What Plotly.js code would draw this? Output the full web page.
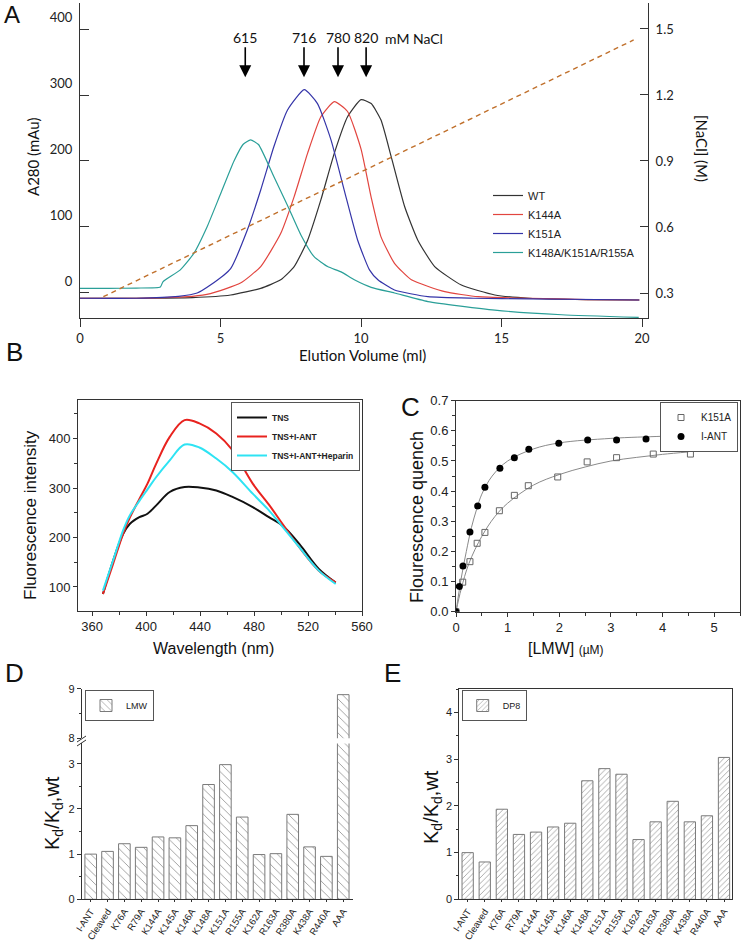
<!DOCTYPE html>
<html>
<head>
<meta charset="utf-8">
<script src="https://cdn.plot.ly/plotly-3.0.1.min.js"></script>
<style>body{margin:0;background:#fff}#plot{width:745px;height:941px}</style>
</head>
<body>
<div id="plot"></div>
<script>
////////// PANEL A : elution profiles ///////////////
const wtVol   = [0, 2, 4, 5.36, 6.43, 7.14, 7.62, 8.1, 8.57, 9.05, 9.52, 10.0, 10.36, 10.71, 11.07, 11.55, 12.02, 12.62, 13.57, 14.76, 16, 18, 19.9];
const wtAbs   = [-8, -8, -7, -3, 7, 20, 40, 80, 141, 212, 267, 293, 287, 262, 207, 131, 80, 40, 12, -3, -8, -10, -10.6];
const k144Vol = [0, 2, 4, 4.64, 5.71, 6.43, 7.14, 7.62, 8.1, 8.57, 9.05, 9.52, 10.0, 10.36, 10.71, 11.19, 11.79, 12.98, 14.17, 16, 18, 19.9];
const k144Abs = [-8, -8, -5, -1, 15, 40, 90, 146, 212, 267, 290, 275, 218, 145, 85, 45, 20, 2, -5.6, -8, -10, -10.6];
const k151Vol = [0, 2, 3.5, 4.17, 4.64, 5.36, 5.95, 6.43, 6.9, 7.38, 7.98, 8.45, 8.93, 9.4, 9.88, 10.3, 10.6, 11.19, 12.38, 14, 16, 19.9];
const k151Abs = [-8, -8, -5, 0, 12, 37, 95, 156, 222, 277, 308, 287, 232, 156, 80, 35, 20, 4.5, -5.6, -8, -9, -10.6];
const tripleVol = [0, 1, 2, 2.86, 2.95, 3.57, 4.05, 4.52, 5.0, 5.48, 5.8, 6.07, 6.35, 6.9, 7.38, 7.86, 8.33, 8.81, 9.29, 9.76, 10.36, 11.19, 12.38, 14.76, 17.14, 19.88];
const tripleAbs = [7, 7, 7.5, 9, 17, 35, 60, 100, 150, 200, 225, 232, 225, 176, 133, 88, 55, 40, 32, 20, 8.6, 0, -13, -26, -33, -37];
const naclVol = [0.83, 19.7];
const naclM   = [0.283, 1.45];

const peakVol   = [5.88, 7.97, 9.18, 10.18];
const peakLabel = ["615", "716", "780", "820"];

////////// PANEL B : TNS fluorescence ///////////////
const waveNm   = [368, 375.5, 383, 388, 395, 401, 407.5, 417.5, 428.5, 439.5, 452, 464, 479, 491, 501, 513.5, 528, 540.5];
const tnsF     = [85.8, 153, 207.5, 227.8, 241, 248, 265, 292, 302, 301, 295, 282, 261.5, 241, 224, 187, 136.5, 109];
const tnsAntF  = [85.8, 146.7, 208, 240.6, 278, 309, 349.5, 403.4, 437.3, 430.6, 410.3, 376.5, 308.9, 266.5, 227.8, 180.3, 133, 109.3];
const tnsHepF  = [92.6, 153.4, 215, 245.2, 274, 297.3, 322.3, 356, 388, 382, 359.6, 332.5, 288.6, 255, 222, 180.3, 133, 106];

////////// PANEL C : quench titration ///////////////
const antConc  = [0, 0.064, 0.135, 0.27, 0.42, 0.56, 0.85, 1.13, 1.41, 1.99, 2.55, 3.11, 3.68, 4.54];
const antQ     = [0, 0.084, 0.152, 0.264, 0.351, 0.413, 0.476, 0.511, 0.539, 0.559, 0.570, 0.570, 0.573, 0.572];
const k151Conc = [0, 0.13, 0.27, 0.41, 0.56, 0.84, 1.13, 1.40, 1.97, 2.54, 3.11, 3.82, 4.54];
const k151Q    = [0, 0.098, 0.166, 0.227, 0.263, 0.335, 0.386, 0.418, 0.447, 0.497, 0.511, 0.523, 0.523];
const antFitX  = [0, 0.1, 0.2, 0.3, 0.4, 0.5, 0.7, 1.0, 1.5, 2.0, 3.0, 4.0, 4.5];
const antFitY  = [0, 0.11, 0.2, 0.28, 0.34, 0.39, 0.45, 0.5, 0.54, 0.56, 0.575, 0.582, 0.585];
const k151FitX = [0, 0.1, 0.25, 0.5, 0.75, 1.0, 1.5, 2.0, 2.5, 3.0, 3.5, 4.0, 4.5];
const k151FitY = [0, 0.075, 0.16, 0.25, 0.315, 0.36, 0.42, 0.455, 0.48, 0.5, 0.512, 0.522, 0.53];

////////// PANELS D, E : Kd ratios ///////////////
const mutants = ["I-ANT", "Cleaved", "K76A", "R79A", "K144A", "K145A", "K146A", "K148A", "K151A", "R155A", "K162A", "R163A", "R380A", "K438A", "R440A", "AAA"];
const lmwRatio = [1.0, 1.06, 1.23, 1.15, 1.38, 1.36, 1.63, 2.54, 2.98, 1.82, 0.99, 1.01, 1.88, 1.16, 0.95, 8.88];
const dp8Ratio = [1.0, 0.80, 1.93, 1.39, 1.44, 1.55, 1.63, 2.54, 2.80, 2.68, 1.28, 1.66, 2.10, 1.66, 1.79, 3.04];

const W = 745, H = 941;
function px(x){ return x / W; }
function py(y){ return 1 - y / H; }

const ARIAL = "Liberation Sans, Arial, sans-serif";
const CAL = "Lato, sans-serif";
const idx = mutants.map(function(m, i){ return i; });

let data = [
  // A
  {x: wtVol, y: wtAbs, type: 'scatter', mode: 'lines', name: 'WT', legend: 'legend',
   line: {color: '#333333', width: 1.2, shape: 'spline', smoothing: 0.5}},
  {x: k144Vol, y: k144Abs, type: 'scatter', mode: 'lines', name: 'K144A', legend: 'legend',
   line: {color: '#e2453f', width: 1.2, shape: 'spline', smoothing: 0.5}},
  {x: k151Vol, y: k151Abs, type: 'scatter', mode: 'lines', name: 'K151A', legend: 'legend',
   line: {color: '#3434a8', width: 1.2, shape: 'spline', smoothing: 0.5}},
  {x: tripleVol, y: tripleAbs, type: 'scatter', mode: 'lines', name: 'K148A/K151A/R155A', legend: 'legend',
   line: {color: '#2a9f98', width: 1.2, shape: 'spline', smoothing: 0.5}},
  {x: naclVol, y: naclM, type: 'scatter', mode: 'lines', yaxis: 'y2', showlegend: false,
   line: {color: '#c0702c', width: 1.4, dash: '5px,4px'}},
  // B
  {x: waveNm, y: tnsF, xaxis: 'x2', yaxis: 'y3', type: 'scatter', mode: 'lines', name: 'TNS', legend: 'legend2',
   line: {color: '#111111', width: 2, shape: 'spline'}},
  {x: waveNm, y: tnsAntF, xaxis: 'x2', yaxis: 'y3', type: 'scatter', mode: 'lines', name: 'TNS+I-ANT', legend: 'legend2',
   line: {color: '#e8231f', width: 2, shape: 'spline'}},
  {x: waveNm, y: tnsHepF, xaxis: 'x2', yaxis: 'y3', type: 'scatter', mode: 'lines', name: 'TNS+I-ANT+Heparin', legend: 'legend2',
   line: {color: '#2ee3f3', width: 2, shape: 'spline'}},
  // C
  {x: antFitX, y: antFitY, xaxis: 'x3', yaxis: 'y4', type: 'scatter', mode: 'lines', showlegend: false,
   line: {color: '#8a8a8a', width: 1, shape: 'spline'}},
  {x: k151FitX, y: k151FitY, xaxis: 'x3', yaxis: 'y4', type: 'scatter', mode: 'lines', showlegend: false,
   line: {color: '#8a8a8a', width: 1, shape: 'spline'}},
  {x: k151Conc, y: k151Q, xaxis: 'x3', yaxis: 'y4', type: 'scatter', mode: 'markers', name: 'K151A', legend: 'legend3',
   marker: {symbol: 'square-open', size: 6, color: '#666666', line: {width: 1}}},
  {x: antConc, y: antQ, xaxis: 'x3', yaxis: 'y4', type: 'scatter', mode: 'markers', name: 'I-ANT', legend: 'legend3',
   marker: {symbol: 'circle', size: 7, color: '#000000'}},
  // D (lower and upper part of the broken axis)
  {x: idx, y: lmwRatio, xaxis: 'x4', yaxis: 'y5', type: 'bar', name: 'LMW', legend: 'legend4', width: 0.69,
   marker: {color: '#ffffff', line: {color: '#7a7a7a', width: 1},
            pattern: {shape: '\\', fgcolor: '#9a9a9a', bgcolor: '#ffffff', size: 6, solidity: 0.15}}},
  {x: idx, y: lmwRatio, xaxis: 'x4', yaxis: 'y6', type: 'bar', showlegend: false, width: 0.69,
   marker: {color: '#ffffff', line: {color: '#7a7a7a', width: 1},
            pattern: {shape: '\\', fgcolor: '#9a9a9a', bgcolor: '#ffffff', size: 6, solidity: 0.15}}},
  // E
  {x: idx, y: dp8Ratio, xaxis: 'x5', yaxis: 'y7', type: 'bar', name: 'DP8', legend: 'legend5', width: 0.66,
   marker: {color: '#ffffff', line: {color: '#7a7a7a', width: 1},
            pattern: {shape: '/', fgcolor: '#9a9a9a', bgcolor: '#ffffff', size: 4, solidity: 0.2}}}
];

let tickA = {family: CAL, size: 13, color: '#222'};
let tickS = {family: ARIAL, size: 13, color: '#222'};
let tickXS = {family: ARIAL, size: 11, color: '#222'};
let tickCat = {family: ARIAL, size: 9.5, color: '#222'};

let layout = {
  width: W, height: H,
  margin: {l: 0, r: 0, t: 0, b: 0},
  paper_bgcolor: '#ffffff', plot_bgcolor: 'rgba(0,0,0,0)',
  showlegend: true,
  // A
  xaxis: {domain: [px(80), px(648)], range: [0, 20.21], anchor: 'y', showgrid: false, zeroline: false,
          showline: true, linecolor: '#333', ticks: 'outside', ticklen: 8, tickcolor: '#333',
          tickvals: [0, 5, 10, 15, 20], tickfont: tickA},
  yaxis: {domain: [py(318), py(3)], range: [-37.9, 439.4], anchor: 'x', showgrid: false, zeroline: false,
          showline: true, linecolor: '#333', ticks: 'inside', ticklen: 9, tickcolor: '#333',
          tickvals: [0, 100, 200, 300, 400], ticklabelshift: -12, ticklabelstandoff: 4, tickfont: tickA},
  yaxis2: {overlaying: 'y', side: 'right', anchor: 'x', range: [0.1864, 1.618], showgrid: false, zeroline: false,
           showline: true, linecolor: '#333', ticks: 'inside', ticklen: 8, tickcolor: '#333',
           tickvals: [0.3, 0.6, 0.9, 1.2, 1.5], ticktext: ['0.3', '0.6', '0.9', '1.2', '1.5'],
           ticklabelstandoff: 4, tickfont: tickA},
  // B
  xaxis2: {domain: [px(78), px(362)], range: [349.5, 560], anchor: 'y3', showgrid: false, zeroline: false,
           showline: true, mirror: true, linecolor: '#333', ticks: 'outside', ticklen: 4, tickcolor: '#333',
           dtick: 40, tick0: 360, minor: {ticks: 'outside', ticklen: 3, dtick: 20, tickcolor: '#333'}, tickfont: tickS},
  yaxis3: {domain: [py(610.7), py(400)], range: [52, 478], anchor: 'x2', showgrid: false, zeroline: false,
           showline: true, mirror: true, linecolor: '#333', ticks: 'outside', ticklen: 4, tickcolor: '#333',
           dtick: 100, tick0: 0, minor: {ticks: 'outside', ticklen: 3, dtick: 50, tickcolor: '#333'}, tickfont: tickS},
  // C
  xaxis3: {domain: [px(456), px(740)], range: [0, 5.5], anchor: 'y4', showgrid: false, zeroline: false,
           showline: true, mirror: true, linecolor: '#333', ticks: 'outside', ticklen: 4, tickcolor: '#333',
           dtick: 1, minor: {ticks: 'outside', ticklen: 3, dtick: 0.5, tickcolor: '#333'}, tickfont: tickS},
  yaxis4: {domain: [py(611.7), py(400.7)], range: [0, 0.7], anchor: 'x3', showgrid: false, zeroline: false,
           showline: true, mirror: true, linecolor: '#333', ticks: 'outside', ticklen: 4, tickcolor: '#333',
           dtick: 0.1, tickformat: '.1f', minor: {ticks: 'outside', ticklen: 3, dtick: 0.05, tickcolor: '#333'}, tickfont: tickS},
  // D
  xaxis4: {domain: [px(81.7), px(353)], range: [-0.535, 15.58], anchor: 'y5', showgrid: false, zeroline: false,
           showline: true, linecolor: '#333', ticks: 'outside', ticklen: 2, tickcolor: '#333',
           tickvals: idx, ticktext: mutants, tickangle: -57, ticklabelstandoff: 0, tickfont: tickCat},
  yaxis5: {domain: [py(899.3), py(743.4)], range: [0, 3.45], anchor: 'x4', showgrid: false, zeroline: false,
           showline: true, linecolor: '#333', ticks: 'outside', ticklen: 4, tickcolor: '#333',
           dtick: 1, minor: {ticks: 'outside', ticklen: 2, dtick: 0.5, tickcolor: '#333'}, tickfont: tickXS},
  yaxis6: {domain: [py(738.3), py(688.7)], range: [8, 9], anchor: 'x4', showgrid: false, zeroline: false,
           showline: true, linecolor: '#333', ticks: 'outside', ticklen: 4, tickcolor: '#333',
           tickvals: [8, 9], minor: {ticks: 'outside', ticklen: 2, tickvals: [8.5], tickcolor: '#333'}, tickfont: tickXS},
  // E
  xaxis5: {domain: [px(459.3), px(731.7)], range: [-0.49, 15.45], anchor: 'y7', showgrid: false, zeroline: false,
           showline: true, mirror: true, linecolor: '#333', ticks: 'outside', ticklen: 2, tickcolor: '#333',
           tickvals: idx, ticktext: mutants, tickangle: -57, ticklabelstandoff: 0, tickfont: tickCat},
  yaxis7: {domain: [py(899.3), py(689.3)], range: [0, 4.5], anchor: 'x5', showgrid: false, zeroline: false,
           showline: true, mirror: true, linecolor: '#333', ticks: 'outside', ticklen: 4, tickcolor: '#333',
           dtick: 1, minor: {ticks: 'outside', ticklen: 2, dtick: 0.5, tickcolor: '#333'}, tickfont: tickXS},

  legend:  {x: px(488), y: py(181), xanchor: 'left', yanchor: 'top', bgcolor: 'rgba(0,0,0,0)',
            font: {family: ARIAL, size: 11, color: '#222'}, itemwidth: 30},
  legend2: {x: px(360), y: py(402), xanchor: 'right', yanchor: 'top', bgcolor: '#fff',
            bordercolor: '#555', borderwidth: 1, font: {family: ARIAL, size: 8.5, weight: 'bold', color: '#222'}, itemwidth: 30},
  legend3: {x: px(738), y: py(402), xanchor: 'right', yanchor: 'top', bgcolor: '#fff',
            bordercolor: '#555', borderwidth: 1, font: {family: ARIAL, size: 10, color: '#222'}, itemwidth: 30},
  legend4: {x: px(85), y: py(690), xanchor: 'left', yanchor: 'top', bgcolor: '#fff',
            bordercolor: '#555', borderwidth: 1, font: {family: ARIAL, size: 9, color: '#222'}, itemwidth: 30},
  legend5: {x: px(461.7), y: py(690), xanchor: 'left', yanchor: 'top', bgcolor: '#fff',
            bordercolor: '#555', borderwidth: 1, font: {family: ARIAL, size: 9, color: '#222'}, itemwidth: 30},

  shapes: [
    // break marks on the D axis
    {type: 'line', xref: 'paper', yref: 'paper', x0: px(77), y0: py(746), x1: px(86), y1: py(740), line: {color: '#333', width: 1}},
    {type: 'line', xref: 'paper', yref: 'paper', x0: px(77), y0: py(742), x1: px(86), y1: py(736), line: {color: '#333', width: 1}}
  ],
  annotations: []
};

function note(text, x, y, size, family, extra){
  let a = {text: text, x: px(x), y: py(y), xref: 'paper', yref: 'paper', showarrow: false,
           xanchor: 'center', yanchor: 'middle', font: {family: family, size: size, color: '#111'}};
  return Object.assign(a, extra || {});
}

let ann = layout.annotations;
ann.push(note('A', 12, 15, 24, ARIAL));
ann.push(note('B', 15, 352, 26, ARIAL));
ann.push(note('C', 411, 407, 26, ARIAL));
ann.push(note('D', 15, 673, 26, ARIAL));
ann.push(note('E', 392, 673, 26, ARIAL));
ann.push(note('Elution Volume (ml)', 362, 355, 15, CAL));
ann.push(note('A280 (mAu)', 33, 157, 15, CAL, {textangle: -90}));
ann.push(note('[NaCl] (M)', 702, 148, 15, CAL, {textangle: 90}));
ann.push(note('mM NaCl', 414, 38, 14, CAL));
ann.push(note('Wavelength (nm)', 213, 648, 16, ARIAL));
ann.push(note('Fluorescence intensity', 30, 515, 17, ARIAL, {textangle: -90}));
ann.push(note('Flourescence quench', 417, 517, 18, ARIAL, {textangle: -90}));
ann.push(note('[LMW] <span style="font-size:12px">(\u00b5M)</span>', 566, 648, 16, ARIAL));
ann.push(note('K<sub>d</sub>/K<sub>d</sub>,wt', 53, 813, 20, ARIAL, {textangle: -90}));
ann.push(note('K<sub>d</sub>/K<sub>d</sub>,wt', 432, 807, 20, ARIAL, {textangle: -90}));

for (let i = 0; i < peakVol.length; i++) {
  ann.push({x: peakVol[i], y: 327, xref: 'x', yref: 'y', text: peakLabel[i], showarrow: true,
            ax: 0, ay: -40, arrowhead: 2, arrowsize: 1.5, arrowwidth: 1.6, arrowcolor: '#000',
            font: {family: CAL, size: 14, color: '#111'}});
}

let config = {responsive: false, displayModeBar: false};

Plotly.newPlot('plot', data, layout, config);
</script>
</body>
</html>
